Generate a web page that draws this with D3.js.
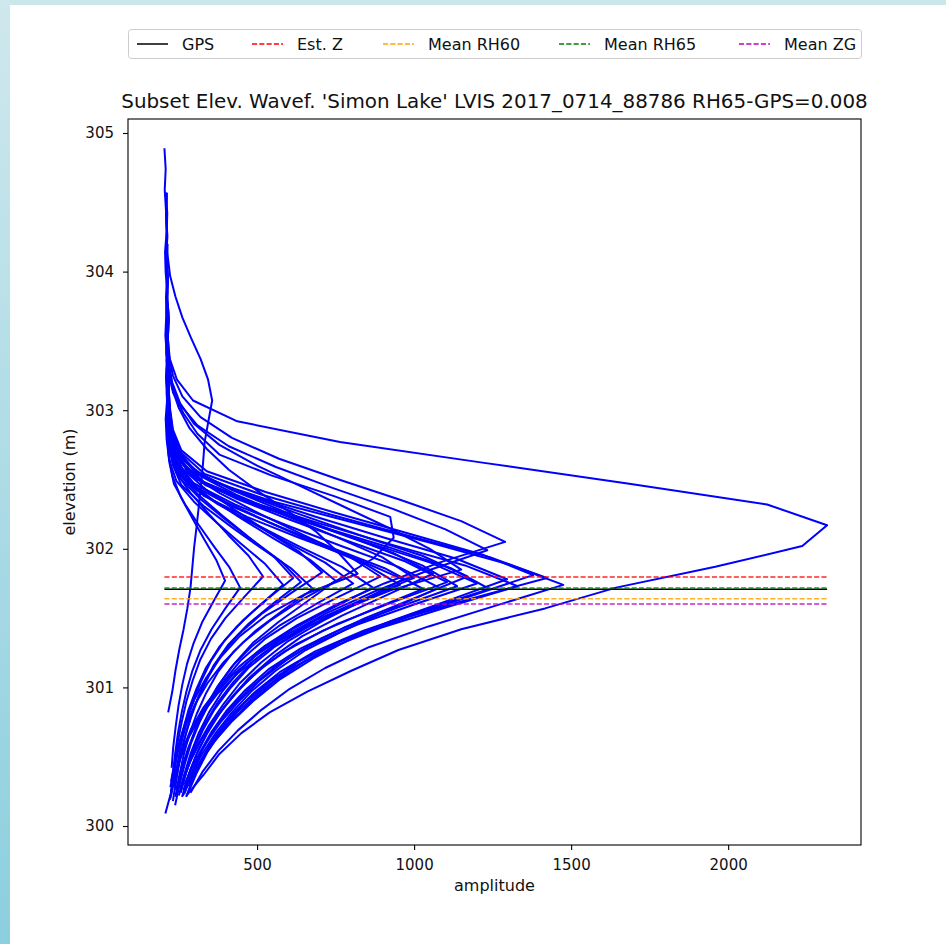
<!DOCTYPE html>
<html><head><meta charset="utf-8">
<script src="https://cdn.jsdelivr.net/npm/d3@7"></script>
<style>
body{margin:0;background:#fff}
svg{display:block}
text{font-family:"DejaVu Sans",sans-serif}
</style>
</head><body>
<svg id="chart" width="946" height="944"></svg>
<script>
// ---------------- data ----------------
const titleText = "Subset Elev. Wavef. 'Simon Lake' LVIS 2017_0714_88786 RH65-GPS=0.008";
const xLabel = "amplitude";
const yLabel = "elevation (m)";
const xTicks = [500, 1000, 1500, 2000];
const yTicks = [300, 301, 302, 303, 304, 305];
const xDomain = [89, 2423];
const yDomain = [299.863, 305.101];
const sampleStep = 0.15; // vertical bin size of each waveform (m)

// bottom elevation of each waveform (m)
const waveStartElev = [
  300.82, 300.22, 300.42, 300.22, 300.30, 300.09, 300.29, 300.21, 300.18, 300.25,
  300.22, 300.15, 300.24, 300.28, 300.21, 300.32, 300.26, 300.23, 300.30, 300.25,
  300.21, 300.28, 300.23, 300.31, 300.29, 300.24, 300.27, 300.29, 300.22, 300.26,
  300.28, 300.19, 300.25, 300.20, 300.32
];
// amplitudes of each waveform, bottom to top
const waveAmplitudes = [
  [217,230,240,252,266,278,288,294,300,308,315,322,328,333,345,357,344,320,290,262,240,223,215,212,214,210],
  [275,330,380,450,540,660,800,950,1150,1417,1643,1959,2236,2315,2124,1685,1223,764,437,296,245,222,216,219,213,216,212,214,210,213],
  [228,233,241,250,262,277,298,325,361,398,370,331,294,258,231,219,214,216,212,215,211,213],
  [226,232,239,248,260,275,294,320,355,399,446,411,362,315,271,235,221,215,212,217,213,214,211,216,212],
  [230,238,247,260,275,295,319,353,399,458,519,473,408,347,289,243,224,216,213,218,212],
  [208,226,236,248,264,282,307,337,379,436,507,583,526,447,371,299,243,220,212,209,214,210,213,208,211,215,209,207,212,210,206,209,205],
  [236,246,258,274,295,321,353,397,458,534,615,555,470,389,313,252,228,217,214,219],
  [240,252,266,284,308,338,375,426,496,585,678,608,510,417,329,259,231,218,213,216,211,214,212,215,210,213],
  [232,242,254,269,289,313,346,385,440,514,608,707,633,529,430,336,262,232,220,215,218,214],
  [248,262,280,304,334,372,420,485,574,687,806,717,592,473,361,271,236,222,216,214,217,212,215],
  [251,268,288,314,347,389,442,514,613,738,869,770,632,501,376,278,238,223,217,213,216,212],
  [239,253,270,290,317,351,396,450,525,627,756,892,790,647,511,382,280,239,224,218,215,219,213,216,212,214,211,215],
  [257,275,297,327,364,413,472,554,665,806,955,844,688,539,398,286,242,225,218,214,217],
  [257,280,310,348,393,445,513,596,709,837,965,814,634,468,332,257,227,216,219,213,215,212],
  [261,281,306,339,380,433,498,588,710,866,1029,906,735,571,416,294,245,226,219,215,218,213,216,212],
  [263,288,322,365,416,475,551,644,772,916,1060,933,755,585,424,297,246,227,219,216,220,214],
  [266,288,315,350,395,453,525,623,757,926,1105,971,784,605,435,301,248,228,220,216,218,213,215,211,214],
  [268,291,318,355,402,462,536,638,776,952,1137,1026,860,675,490,332,258,230,219,215,217],
  [269,298,337,384,442,509,595,701,844,1007,1170,1026,825,634,452,308,250,229,221,217,214],
  [271,296,326,365,415,479,558,666,815,1002,1200,1052,844,647,459,311,252,229,221,216,219,214],
  [274,299,330,371,423,490,572,685,839,1034,1240,1117,921,705,500,335,263,233,220,216],
  [277,310,353,407,472,548,646,765,927,1112,1296,1133,906,689,483,320,255,230,222,217,215],
  [279,307,341,385,441,514,603,726,894,1106,1330,1162,928,704,492,324,257,231,222,218,215,219],
  [282,317,364,422,492,574,679,807,982,1181,1379,1216,982,749,527,340,259,232,223,218,215],
  [285,315,351,400,460,539,636,769,951,1181,1423,1241,987,745,515,333,260,232,223,219,216],
  [288,326,376,439,515,604,717,856,1046,1260,1475,1298,1058,806,553,351,263,233,224,219,216,220],
  [244,260,282,309,341,379,427,486,567,659,750,669,556,449,347,266,234,220,215,218],
  [259,279,303,334,374,425,488,574,693,842,1000,898,748,590,433,307,251,228,218,214,217],
  [264,290,325,368,420,481,559,655,785,932,1080,950,768,594,429,299,247,227,219,215,218],
  [238,248,261,278,300,328,362,409,473,554,640,576,486,400,319,255,229,217,213,216],
  [224,236,252,274,303,342,393,458,540,640,760,870,935,924,745,545,380,310,265,232,220,214,217,212],
  [222,236,255,281,316,362,423,502,602,725,872,1040,1233,1100,930,740,560,410,310,255,228,218,214,219,213,216,212],
  [226,241,262,290,328,378,443,525,628,755,905,1080,1290,1150,960,760,570,420,320,262,232,219,215,218,213],
  [224,238,258,285,322,372,438,522,628,760,925,1150,1050,920,780,640,500,380,300,255,230,218,214,217,212,215,211,214,210,212],
  [226,238,254,275,302,338,385,445,530,650,820,760,690,600,500,410,340,285,250,228,218,214,216,212,215]
];

const refLabels = ["GPS", "Est. Z", "Mean RH60", "Mean RH65", "Mean ZG"];
const refElevations = [301.709, 301.796, 301.640, 301.717, 301.601];
const refColors = ["#000000", "#ff0000", "#ffa500", "#008000", "#bf00bf"];
const refDashed = [false, true, true, true, true];

// ---------------- layout ----------------
const W = 946, H = 944;
const M = {left: 128, right: 861, top: 119, bottom: 845};
const svg = d3.select("#chart");

// page background frame
const defs = svg.append("defs");
const grad = defs.append("linearGradient").attr("id", "edge").attr("x1", 0).attr("y1", 0).attr("x2", 0).attr("y2", 1);
grad.append("stop").attr("offset", "0%").attr("stop-color", "#cfe8ed");
grad.append("stop").attr("offset", "100%").attr("stop-color", "#8ccfdf");
svg.append("rect").attr("width", W).attr("height", H).attr("fill", "#fff");
svg.append("rect").attr("x", 0).attr("y", 0).attr("width", W).attr("height", 5).attr("fill", "#cbe7ec");
svg.append("rect").attr("x", 0).attr("y", 0).attr("width", 10).attr("height", H).attr("fill", "url(#edge)");

const x = d3.scaleLinear().domain(xDomain).range([M.left, M.right]);
const y = d3.scaleLinear().domain(yDomain).range([M.bottom, M.top]);

const plot = svg.append("g");
plot.append("defs").append("clipPath").attr("id", "clip")
  .append("rect").attr("x", M.left).attr("y", M.top).attr("width", M.right - M.left).attr("height", M.bottom - M.top);

const line = d3.line().x(d => x(d.amp)).y(d => y(d.elev));
const waves = waveAmplitudes.map((arr, i) => arr.map((a, j) => ({amp: a, elev: waveStartElev[i] + j * sampleStep})));

const g = plot.append("g").attr("clip-path", "url(#clip)");
g.selectAll("path.wave").data(waves).enter().append("path")
  .attr("class", "wave")
  .attr("d", line)
  .attr("fill", "none")
  .attr("stroke", "#0000ff")
  .attr("stroke-width", 2)
  .attr("stroke-linejoin", "round");

// reference lines spanning the amplitude range of the data
const allAmps = waveAmplitudes.flat();
const ampExtent = d3.extent(allAmps);
refLabels.forEach((lab, i) => {
  g.append("line")
    .attr("x1", x(ampExtent[0])).attr("x2", x(ampExtent[1]))
    .attr("y1", y(refElevations[i])).attr("y2", y(refElevations[i]))
    .attr("stroke", refColors[i])
    .attr("stroke-width", 1.5)
    .attr("stroke-opacity", refDashed[i] ? 0.85 : 1)
    .attr("stroke-dasharray", refDashed[i] ? "5.1,2.2" : null);
});

// axes
const fmt = d3.format("d");
const xAxis = svg.append("g").attr("transform", `translate(0,${M.bottom})`)
  .call(d3.axisBottom(x).tickValues(xTicks).tickFormat(fmt).tickSize(5).tickPadding(9));
const yAxis = svg.append("g").attr("transform", `translate(${M.left},0)`)
  .call(d3.axisLeft(y).tickValues(yTicks).tickFormat(fmt).tickSize(5).tickPadding(9));
[xAxis, yAxis].forEach(a => {
  a.select(".domain").remove();
  a.selectAll("line").attr("stroke", "#000").attr("stroke-width", 1.1);
  a.selectAll("text").attr("font-size", 15).attr("fill", "#111").attr("font-family", "DejaVu Sans");
});

// frame
svg.append("rect")
  .attr("x", M.left).attr("y", M.top)
  .attr("width", M.right - M.left).attr("height", M.bottom - M.top)
  .attr("fill", "none").attr("stroke", "#000").attr("stroke-width", 1.1);

// labels
svg.append("text").attr("x", (M.left + M.right) / 2).attr("y", 891)
  .attr("text-anchor", "middle").attr("font-size", 16).attr("fill", "#111").text(xLabel);
svg.append("text").attr("transform", `translate(75,${(M.top + M.bottom) / 2}) rotate(-90)`)
  .attr("text-anchor", "middle").attr("font-size", 16).attr("fill", "#111").text(yLabel);
svg.append("text").attr("x", (M.left + M.right) / 2).attr("y", 108)
  .attr("text-anchor", "middle").attr("font-size", 19.9).attr("fill", "#111").text(titleText);

// legend
const leg = svg.append("g");
leg.append("rect").attr("x", 128.5).attr("y", 29.5).attr("width", 733).attr("height", 29)
  .attr("rx", 3).attr("fill", "#fff").attr("stroke", "#cccccc").attr("stroke-width", 1);
const legTextX = [182, 297, 428, 604, 784];
refLabels.forEach((lab, i) => {
  leg.append("line")
    .attr("x1", legTextX[i] - 45).attr("x2", legTextX[i] - 14)
    .attr("y1", 44).attr("y2", 44)
    .attr("stroke", refColors[i]).attr("stroke-width", 1.5)
    .attr("stroke-dasharray", refDashed[i] ? "5.1,2.2" : null);
  leg.append("text").attr("x", legTextX[i]).attr("y", 49.5)
    .attr("font-size", 16).attr("fill", "#111").text(lab);
});
</script>
</body></html>
